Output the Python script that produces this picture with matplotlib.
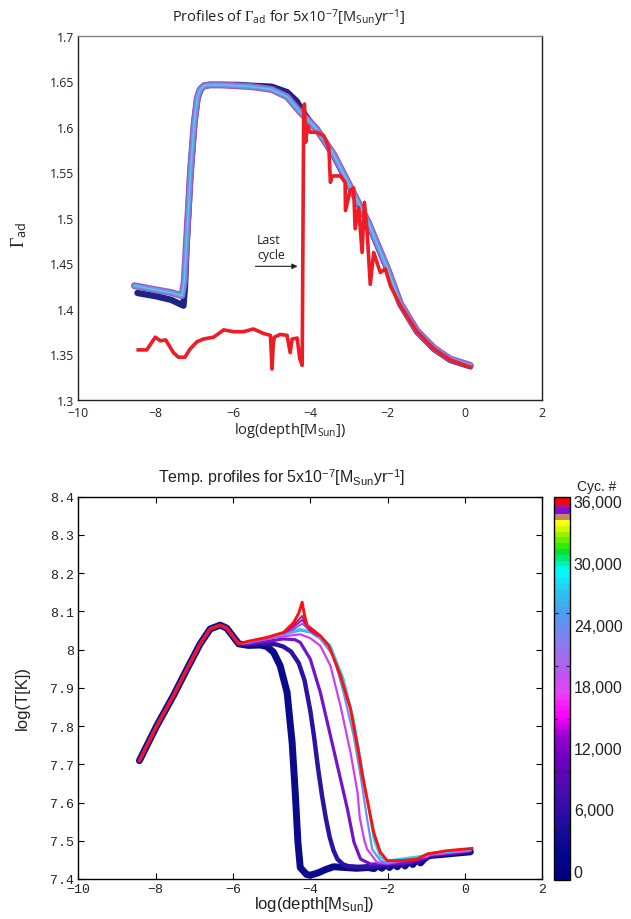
import numpy as np
import matplotlib
matplotlib.use("Agg")
import matplotlib.pyplot as plt
from matplotlib.colors import ListedColormap, LinearSegmentedColormap, Normalize
import matplotlib.colorbar as mcolorbar

plt.rcParams['mathtext.fontset'] = 'custom'
plt.rcParams['mathtext.rm'] = 'Liberation Serif'
plt.rcParams['mathtext.it'] = 'Liberation Serif:italic'
plt.rcParams['mathtext.sf'] = 'Open Sans'
plt.rcParams['mathtext.tt'] = 'Liberation Sans'

W, H = 631, 920

# ---------------- data: top panel (Gamma_ad) ----------------
band_x = [-8.55, -8.0, -7.6, -7.32, -7.26, -7.2, -7.1, -7.0, -6.92, -6.85, -6.75, -6.6,
          -6.3, -5.9, -5.5, -5.0, -4.6, -4.26, -4.0, -3.83, -3.4, -3.0, -2.5, -2.0,
          -1.67, -1.24, -0.8, -0.38, 0.14]
band_y = [1.4255, 1.421, 1.418, 1.4145, 1.43, 1.475, 1.55, 1.605, 1.632, 1.641, 1.645, 1.646,
          1.646, 1.645, 1.644, 1.641, 1.633, 1.616, 1.605, 1.597, 1.570, 1.537, 1.495, 1.444,
          1.406, 1.376, 1.357, 1.345, 1.338]

navy_top_x = [-8.47, -8.0, -7.6, -7.28, -7.24, -7.2, -7.1, -7.0, -6.92, -6.85, -6.75, -6.6,
              -6.3, -5.9, -5.5, -5.0, -4.6, -4.35, -4.2, -4.0, -3.83, -3.4, -3.0, -2.5,
              -2.0, -1.67, -1.24, -0.8, -0.38, 0.14]
navy_top_y = [1.4175, 1.414, 1.410, 1.4036, 1.425, 1.47, 1.548, 1.604, 1.631, 1.640, 1.645, 1.646,
              1.646, 1.646, 1.645, 1.644, 1.638, 1.628, 1.617, 1.605, 1.597, 1.569, 1.536, 1.494,
              1.443, 1.405, 1.375, 1.356, 1.344, 1.337]

last_top_x = [-8.45, -8.23, -8.01, -7.88, -7.74, -7.54, -7.41, -7.24, -7.11, -6.93, -6.76, -6.50,
              -6.24, -5.98, -5.73, -5.47, -5.21, -5.03, -4.99, -4.96, -4.93, -4.78, -4.60, -4.52,
              -4.47, -4.34, -4.27, -4.21, -4.17, -4.15, -4.12, -4.07, -4.0, -3.83, -3.65, -3.52,
              -3.48, -3.44, -3.22, -3.10, -3.09, -2.97, -2.88, -2.84, -2.75, -2.66, -2.60, -2.53,
              -2.45, -2.36, -2.19, -2.06, -1.93, -1.67, -1.24, -0.8, -0.38, 0.14]
last_top_y = [1.355, 1.355, 1.369, 1.365, 1.366, 1.352, 1.347, 1.347, 1.356, 1.364, 1.367, 1.369,
              1.377, 1.375, 1.375, 1.378, 1.373, 1.371, 1.334, 1.360, 1.369, 1.372, 1.371, 1.352,
              1.367, 1.368, 1.345, 1.338, 1.623, 1.625, 1.583, 1.601, 1.594, 1.594, 1.590, 1.577,
              1.539, 1.546, 1.546, 1.539, 1.508, 1.530, 1.533, 1.488, 1.5115, 1.462, 1.517, 1.484,
              1.427, 1.462, 1.440, 1.444, 1.4255, 1.4036, 1.375, 1.356, 1.344, 1.336]

top_xticks = [-10, -8, -6, -4, -2, 0, 2]
top_yticks = [1.3, 1.35, 1.4, 1.45, 1.5, 1.55, 1.6, 1.65, 1.7]
top_yticklabels = ['1.3', '1.35', '1.4', '1.45', '1.5', '1.55', '1.6', '1.65', '1.7']

# ---------------- data: bottom panel (temperature) ----------------
common_x = [-8.42, -7.97, -7.54, -7.19, -6.85, -6.59, -6.33, -6.16, -5.98, -5.85]
common_y = [7.7095, 7.801, 7.8795, 7.949, 8.0147, 8.054, 8.064, 8.056, 8.032, 8.015]

c0_x = [-5.6, -5.29, -5.12, -4.95, -4.78, -4.60, -4.47, -4.39, -4.32, -4.26, -4.1, -4.0, -3.8,
        -3.6, -3.4, -3.1, -2.8, -2.5, -2.35, -2.25, -2.15, -2.05, -1.95, -1.85, -1.75, -1.65,
        -1.55, -1.45, -1.35, -1.25, -1.15, -1.05, -0.95, -0.85, -0.6, -0.3, 0.14]
c0_y = [8.011, 8.012, 8.008, 7.993, 7.958, 7.888, 7.757, 7.627, 7.496, 7.430, 7.412, 7.410, 7.416,
        7.425, 7.432, 7.430, 7.428, 7.430, 7.427, 7.436, 7.428, 7.439, 7.430, 7.441, 7.432, 7.445,
        7.434, 7.448, 7.438, 7.451, 7.442, 7.453, 7.460, 7.462, 7.464, 7.467, 7.471]

c3_x = [-5.6, -5.2, -4.9, -4.7, -4.5, -4.3, -4.15, -4.0, -3.9, -3.8, -3.7, -3.6, -3.5, -3.4,
        -3.3, -3.15, -3.0, -2.7, -2.4, -2.2, -2.1, -2.0, -1.9, -1.8, -1.7, -1.6, -1.5, -1.4,
        -1.3, -1.2, -1.1, -1.0, -0.9, 0.14]
c3_y = [8.013, 8.015, 8.014, 8.008, 7.995, 7.965, 7.92, 7.84, 7.77, 7.69, 7.62, 7.56, 7.51, 7.475,
        7.452, 7.438, 7.433, 7.431, 7.432, 7.434, 7.442, 7.433, 7.444, 7.435, 7.447, 7.437, 7.449,
        7.440, 7.452, 7.443, 7.452, 7.455, 7.461, 7.472]

c9_x = [-5.6, -5.2, -4.7, -4.4, -4.26, -4.0, -3.74, -3.48, -3.22, -3.04, -2.87, -2.70, -2.44,
        -2.0, -1.5, -1.0, -0.9, 0.14]
c9_y = [8.015, 8.020, 8.028, 8.026, 8.019, 7.975, 7.888, 7.775, 7.662, 7.583, 7.496, 7.452, 7.439,
        7.440, 7.442, 7.456, 7.462, 7.473]

c16_x = [-5.6, -5.0, -4.6, -4.26, -4.0, -3.74, -3.48, -3.22, -2.96, -2.78, -2.72, -2.6, -2.53,
         -2.27, -2.0, -1.0, -0.9, 0.14]
c16_y = [8.018, 8.030, 8.036, 8.040, 8.030, 8.010, 7.958, 7.853, 7.731, 7.627, 7.56, 7.50, 7.478,
         7.443, 7.440, 7.458, 7.463, 7.474]

c22_x = [-5.6, -5.0, -4.6, -4.26, -4.0, -3.74, -3.40, -3.14, -2.88, -2.70, -2.53, -2.40, -2.19,
         -2.0, -1.0, -0.9, 0.14]
c22_y = [8.019, 8.033, 8.042, 8.050, 8.045, 8.028, 7.984, 7.888, 7.775, 7.670, 7.557, 7.478, 7.448,
         7.443, 7.460, 7.465, 7.476]

c28_x = [-5.6, -5.0, -4.6, -4.26, -4.0, -3.74, -3.48, -3.14, -2.88, -2.70, -2.53, -2.36, -2.19,
         -2.01, -1.0, -0.9, 0.14]
c28_y = [8.020, 8.035, 8.045, 8.054, 8.048, 8.036, 8.010, 7.923, 7.818, 7.714, 7.609, 7.505, 7.457,
         7.448, 7.462, 7.467, 7.478]

c36_x = [-5.64, -5.12, -4.69, -4.43, -4.3, -4.21, -4.15, -4.08, -3.91, -3.74, -3.52, -3.22, -2.96,
         -2.75, -2.66, -2.53, -2.36, -2.19, -2.01, -1.67, -1.24, -0.98, -0.47, 0.18]
c36_y = [8.021, 8.032, 8.045, 8.071, 8.095, 8.124, 8.090, 8.063, 8.050, 8.036, 8.010, 7.932, 7.845,
         7.731, 7.675, 7.609, 7.522, 7.470, 7.448, 7.448, 7.452, 7.465, 7.474, 7.480]

# near-final cycles, visible only around the bump at log(depth) ~ -4.2
late_x = [-4.7, -4.45, -4.3, -4.21, -4.12, -4.0, -3.8]
c34_y = [8.042, 8.052, 8.062, 8.068, 8.060, 8.048, 8.036]
c35_y = [8.043, 8.058, 8.070, 8.078, 8.065, 8.050, 8.037]
c355_y = [8.044, 8.062, 8.078, 8.088, 8.070, 8.052, 8.038]

bot_xticks = [-10, -8, -6, -4, -2, 0, 2]
bot_yticks = [7.4, 7.5, 7.6, 7.7, 7.8, 7.9, 8.0, 8.1, 8.2, 8.3, 8.4]
bot_yticklabels = ['7.4', '7.5', '7.6', '7.7', '7.8', '7.9', '8', '8.1', '8.2', '8.3', '8.4']

cbar_ticks = [0, 6000, 12000, 18000, 24000, 30000, 36000]
cbar_ticklabels = ['0', '6,000', '12,000', '18,000', '24,000', '30,000', '36,000']
cbar_minor = [4373, 9604, 14766, 19958, 25091]
cbar_vmin, cbar_vmax = -847, 36458

# ---------------- figure ----------------
fig = plt.figure(figsize=(W / 100, H / 100), dpi=100)

def fx(px):
    return px / W

def fy(py):
    return 1 - py / H

TOPF = 'Open Sans'
BOTF = 'Liberation Sans'
MONO = 'Liberation Mono'

# ---- top axes ----
ax1 = fig.add_axes([fx(78.3), fy(401), fx(542.3) - fx(78.3), fy(36.7) - fy(401)])
ax1.plot(navy_top_x, navy_top_y, color='#1c2585', lw=4.6, solid_capstyle='round', zorder=2)
ax1.plot(band_x, band_y, color='#9b55c6', lw=5.0, solid_capstyle='round', zorder=3)
ax1.plot(band_x, band_y, color='#7b8de0', lw=3.4, solid_capstyle='round', zorder=4)
ax1.plot(band_x, band_y, color='#4fd0ea', lw=1.0, solid_capstyle='round', zorder=5)
ax1.plot(last_top_x, last_top_y, color='#ee1c24', lw=2.6, zorder=6)

ax1.set_xlim(-10, 2)
ax1.set_ylim(1.3, 1.7)
ax1.set_xticks(top_xticks)
ax1.set_xticklabels(['\u2212' + str(-t) if t < 0 else str(t) for t in top_xticks],
                    fontfamily=TOPF, fontsize=8.8, color='#231f20')
ax1.set_yticks(top_yticks)
ax1.set_yticklabels(top_yticklabels, fontfamily=TOPF, fontsize=8.8, color='#231f20')
ax1.tick_params(axis='y', length=0, pad=3)
ax1.tick_params(axis='x', length=0, pad=4.5)
for s in ['left', 'bottom', 'right']:
    ax1.spines[s].set_color('#231f20')
    ax1.spines[s].set_linewidth(1.0)
ax1.spines['top'].set_color('#808080')
ax1.spines['top'].set_linewidth(1.0)

ax1.annotate('', xy=(-4.33, 1.4468), xytext=(-5.42, 1.4468),
             arrowprops=dict(arrowstyle='-|>', color='#231f20', lw=0.8, mutation_scale=8,
                             shrinkA=0, shrinkB=0))
ax1.text(-5.38, 1.483, 'Last\ncycle', ha='left', va='top', fontfamily=TOPF, fontsize=8.8,
         color='#231f20', linespacing=1.15)

fig.text(fx(289), fy(18), r'Profiles of $\Gamma_{\mathsf{ad}}$ for 5x10$^{\mathsf{-7}}$[M$_{\mathsf{Sun}}$yr$^{\mathsf{-1}}$]',
         ha='center', va='center', fontfamily=TOPF, fontsize=10.5, color='#231f20')
fig.text(fx(19), fy(235), r'$\Gamma_{\mathsf{ad}}$', rotation=90, ha='center', va='center',
         fontfamily=TOPF, fontsize=13, color='#231f20')
fig.text(fx(290), fy(430), r'log(depth[M$_{\mathsf{Sun}}$])', ha='center', va='center',
         fontfamily=TOPF, fontsize=10.5, color='#231f20')

# ---- bottom axes ----
ax2 = fig.add_axes([fx(78.3), fy(880), fx(542.3) - fx(78.3), fy(497.7) - fy(880)])

def seg(x, y):
    return list(common_x) + list(x), list(common_y) + list(y)

curves = [
    (c0_x, c0_y, '#0a0a8c', 5.0),
    (c3_x, c3_y, '#2e12a2', 3.2),
    (c9_x, c9_y, '#7414c8', 2.3),
    (c16_x, c16_y, '#cc40f0', 1.6),
    (c22_x, c22_y, '#6e90f2', 1.6),
    (c28_x, c28_y, '#10e0f8', 1.6),
]
for i, (x, y, c, lw) in enumerate(curves):
    xx, yy = seg(x, y)
    ax2.plot(xx, yy, color=c, lw=lw, zorder=2 + i, solid_capstyle='round')
ax2.plot(late_x, c34_y, color='#b040e0', lw=1.4, zorder=9)
ax2.plot(late_x, c35_y, color='#8a1ad0', lw=1.4, zorder=10)
ax2.plot(late_x, c355_y, color='#c01070', lw=1.4, zorder=11)
xx, yy = seg(c36_x, c36_y)
ax2.plot(xx, yy, color='#ff1010', lw=2.1, zorder=12)

ax2.set_xlim(-10, 2)
ax2.set_ylim(7.4, 8.4)
ax2.set_xticks(bot_xticks)
ax2.set_xticklabels(['\u2212' + str(-t) if t < 0 else str(t) for t in bot_xticks],
                    fontfamily=MONO, fontsize=9.5, color='#222222')
ax2.set_yticks(bot_yticks)
ax2.set_yticklabels(bot_yticklabels, fontfamily=MONO, fontsize=9.5, color='#222222')
ax2.tick_params(direction='in', length=4, width=0.8, top=True, right=True, pad=3)
for s in ax2.spines.values():
    s.set_color('black')
    s.set_linewidth(1.0)

fig.text(fx(282), fy(478), r'Temp. profiles for 5x10$^{\mathtt{-7}}$[M$_{\mathtt{Sun}}$yr$^{\mathtt{-1}}$]',
         ha='center', va='center', fontfamily=BOTF, fontsize=11.5, color='#222222')
fig.text(fx(22), fy(698), 'log(T[K])', rotation=90, ha='center', va='center',
         fontfamily=BOTF, fontsize=12, color='#222222')
fig.text(fx(314), fy(905), r'log(depth[M$_{\mathtt{Sun}}$])', ha='center', va='center',
         fontfamily=BOTF, fontsize=12, color='#222222')

# ---- colorbar ----
anchors = [
    (0.000, '#000080'), (0.076, '#050890'), (0.150, '#200c9e'), (0.243, '#4a0cb0'),
    (0.335, '#7000c0'), (0.400, '#9a00d0'), (0.456, '#ff00ff'), (0.520, '#e844f6'),
    (0.567, '#c052f0'), (0.613, '#a868f0'), (0.660, '#8c7cf0'), (0.706, '#6a8ef0'),
    (0.752, '#48a0f0'), (0.800, '#30c0f0'), (0.845, '#10e8f8'), (0.864, '#00ffff'),
    (0.891, '#00f0a0'), (0.919, '#00e040'), (0.938, '#30f000'), (0.966, '#90f000'),
    (0.984, '#d0f800'), (1.000, '#ffff00'),
]
grad = LinearSegmentedColormap.from_list('grad', anchors)
colors = [grad(v) for v in np.linspace(0, 1, 62)]
colors += ['#c08870', '#8010d8', '#c01060', '#ff0000']
cmap = ListedColormap(colors)

cax = fig.add_axes([fx(554.3), fy(880.7), fx(570.3) - fx(554.3), fy(497.7) - fy(880.7)])
cb = mcolorbar.ColorbarBase(cax, cmap=cmap, norm=Normalize(vmin=cbar_vmin, vmax=cbar_vmax),
                            orientation='vertical')
cb.outline.set_linewidth(1.0)
cb.outline.set_edgecolor('black')
cax.set_yticks(cbar_ticks)
cax.set_yticklabels(cbar_ticklabels, fontfamily=BOTF, fontsize=11.5, color='#222222')
cax.set_yticks(cbar_minor, minor=True)
cax.tick_params(which='major', length=0, pad=2.5)
cax.tick_params(which='minor', direction='in', length=3, width=0.8, color='#222222', left=True, right=True)
fig.text(fx(597), fy(487), 'Cyc. #', ha='center', va='center', fontfamily=BOTF,
         fontsize=10, color='#222222')

fig.savefig('out.png', dpi=100)
